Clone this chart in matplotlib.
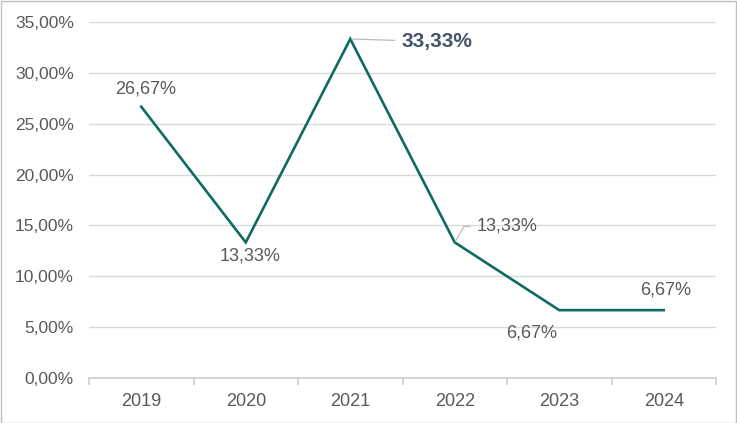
import matplotlib.pyplot as plt
from matplotlib.ticker import FuncFormatter, FixedLocator

plt.rcParams['font.family'] = ['Liberation Sans', 'DejaVu Sans']

years = ['2019', '2020', '2021', '2022', '2023', '2024']
values = [26.67, 13.33, 33.33, 13.33, 6.67, 6.67]
label_texts = ['26,67%', '13,33%', '33,33%', '13,33%', '6,67%', '6,67%']

text_color = '#595959'
line_color = '#0e6b5f'

fig = plt.figure(figsize=(7.37, 4.23), dpi=100)
ax = fig.add_axes([0.1208, 0.1064, 0.8507, 0.8416])

x = list(range(len(years)))
ax.plot(x, values, color=line_color, linewidth=1.9, solid_joinstyle='miter', zorder=3)

ax.set_xlim(-0.5, len(years) - 0.5)
ax.set_ylim(0, 35)
ax.set_yticks([0, 5, 10, 15, 20, 25, 30, 35])
ax.yaxis.set_major_formatter(FuncFormatter(lambda v, p: f'{v:.2f}%'.replace('.', ',')))
ax.set_xticks(x)
ax.set_xticklabels(years)
ax.xaxis.set_minor_locator(FixedLocator([i - 0.5 for i in range(len(years) + 1)]))

ax.grid(axis='y', color='#d9d9d9', linewidth=1)
ax.set_axisbelow(True)
for s in ['top', 'right', 'left']:
    ax.spines[s].set_visible(False)
ax.spines['bottom'].set_color('#d0d0d0')
ax.spines['bottom'].set_linewidth(1.2)

ax.tick_params(axis='y', length=0, pad=11, labelsize=12.5, labelcolor=text_color)
ax.tick_params(axis='x', which='major', length=0, pad=11, labelsize=13, labelcolor=text_color)
ax.tick_params(axis='x', which='minor', length=5, color='#d0d0d0', width=1.2)

# data labels: (dx, dy) in points, alignment, leader connection
offsets = [(3, 13, 'center', None), (3, -10, 'center', None),
           (37, -2, 'left', 'arc3'), (16, 11.5, 'left', 'angle,angleA=0,angleB=60,rad=0'),
           (-20, -16.5, 'center', None), (1, 14.5, 'center', None)]
for i, (dx, dy, ha, conn) in enumerate(offsets):
    bold = i == 2
    kw = {}
    if conn:
        kw['arrowprops'] = dict(arrowstyle='-', color='#b4bcc4', lw=0.9, shrinkA=3, shrinkB=1,
                                connectionstyle=conn)
    ax.annotate(label_texts[i], (x[i], values[i]), xytext=(dx, dy), textcoords='offset points',
                ha=ha, va='center', fontsize=15 if bold else 13,
                fontweight='bold' if bold else 'normal',
                color='#44546a' if bold else text_color, **kw)

fig.patches.append(plt.Rectangle((0.001, 0.001), 0.998, 0.997, transform=fig.transFigure,
                                 fill=False, edgecolor='#bfbfbf', linewidth=1))

fig.savefig('out.png', dpi=100)
